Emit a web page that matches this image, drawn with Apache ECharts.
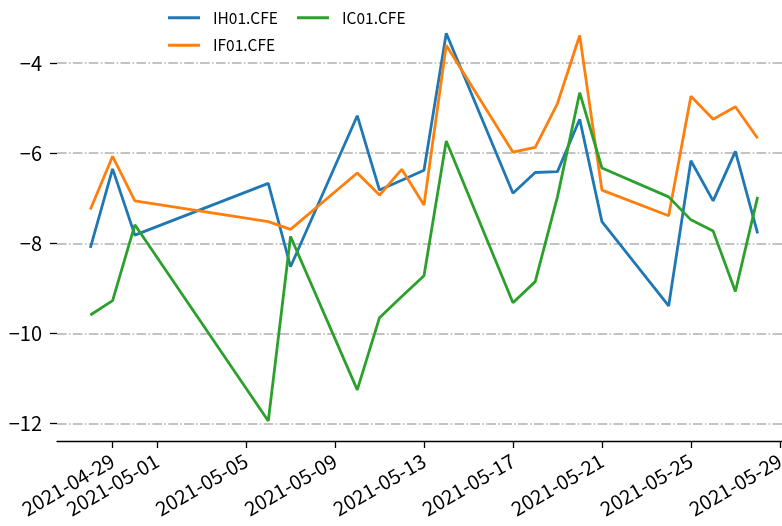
<!DOCTYPE html>
<html><head><meta charset="utf-8">
<script src="https://cdn.jsdelivr.net/npm/echarts@6/dist/echarts.min.js"></script>
<style>html,body{margin:0;padding:0;background:#fff}#c{width:782px;height:526px}</style>
</head><body><div id="c"></div>
<script>
var dates = ['2021-04-28','2021-04-29','2021-04-30','2021-05-06','2021-05-07','2021-05-10','2021-05-11','2021-05-12','2021-05-13','2021-05-14','2021-05-17','2021-05-18','2021-05-19','2021-05-20','2021-05-21','2021-05-24','2021-05-25','2021-05-26','2021-05-27','2021-05-28'];
var ih = [-8.10,-6.35,-7.82,-6.67,-8.52,-5.17,-6.82,-6.60,-6.38,-3.34,-6.89,-6.43,-6.41,-5.25,-7.52,-9.39,-6.17,-7.06,-5.96,-7.78];
var iff = [-7.25,-6.07,-7.06,-7.52,-7.69,-6.44,-6.93,-6.36,-7.15,-3.61,-5.98,-5.87,-4.90,-3.39,-6.82,-7.39,-4.74,-5.25,-4.97,-5.67];
var ic = [-9.59,-9.27,-7.59,-11.94,-7.85,-11.25,-9.65,-9.18,-8.72,-5.73,-9.32,-8.85,-6.97,-4.66,-6.33,-6.97,-7.48,-7.73,-9.07,-6.97];
var xTickLabels = ['2021-04-29','2021-05-01','2021-05-05','2021-05-09','2021-05-13','2021-05-17','2021-05-21','2021-05-25','2021-05-29'];
var yTicks = [-12,-10,-8,-6,-4];
var seriesNames = ['IH01.CFE','IF01.CFE','IC01.CFE'];

function ts(s){var p=s.split('-');return Date.UTC(+p[0],+p[1]-1,+p[2]);}
function fmt(v){var d=new Date(v);var m=d.getUTCMonth()+1,dd=d.getUTCDate();return d.getUTCFullYear()+'-'+(m<10?'0':'')+m+'-'+(dd<10?'0':'')+dd;}
function pairs(arr){return dates.map(function(d,i){return [ts(d),arr[i]];});}
var DAY=86400000;
var xMin = ts('2021-04-26')+DAY/2;
var xMax = ts('2021-05-29')+DAY/2;
var font = "'Noto Sans CJK SC','DejaVu Sans',sans-serif";
var legendText = {fontFamily:font,fontSize:15.5,color:'#000',padding:[0,0,0,8]};
var chart = echarts.init(document.getElementById('c'));
chart.setOption({
  animation:false,
  color:['#1f77b4','#ff7f0e','#2ca02c'],
  grid:{left:57,top:12,height:429,width:734,containLabel:false,outerBoundsMode:'none'},
  legend:[
    {data:[seriesNames[0],seriesNames[1]],orient:'vertical',left:168,top:10,padding:0,icon:'rect',itemWidth:32,itemHeight:3,itemGap:12,textStyle:legendText},
    {data:[seriesNames[2]],orient:'vertical',left:297,top:10,padding:0,icon:'rect',itemWidth:32,itemHeight:3,itemGap:12,textStyle:legendText}
  ],
  xAxis:{type:'value',min:xMin,max:xMax,
    axisLine:{show:true,lineStyle:{color:'#000',width:1.3}},
    axisTick:{show:true,length:7,lineStyle:{color:'#000',width:1.3},customValues:xTickLabels.map(ts)},
    axisLabel:{rotate:30,margin:18,fontFamily:font,fontSize:20,color:'#000',customValues:xTickLabels.map(ts),formatter:function(v){return fmt(v);}},
    splitLine:{show:false}},
  yAxis:{type:'value',min:-12.385,max:-2.87,
    axisLine:{show:false},
    axisTick:{show:true,length:7,lineStyle:{color:'#000',width:1.3},customValues:yTicks},
    axisLabel:{margin:15,fontFamily:font,fontSize:20,color:'#000',customValues:yTicks,formatter:function(v){return String(v).replace('-','\u2212');}},
    splitLine:{show:true,lineStyle:{color:'#b0b0b0',width:1.5,type:[9.6,2.4,1.5,2.4]}}},
  series:[
    {name:seriesNames[0],type:'line',data:pairs(ih),showSymbol:false,lineStyle:{width:2.8},z:3},
    {name:seriesNames[1],type:'line',data:pairs(iff),showSymbol:false,lineStyle:{width:2.8},z:4},
    {name:seriesNames[2],type:'line',data:pairs(ic),showSymbol:false,lineStyle:{width:2.8},z:5}
  ]
});
</script></body></html>
